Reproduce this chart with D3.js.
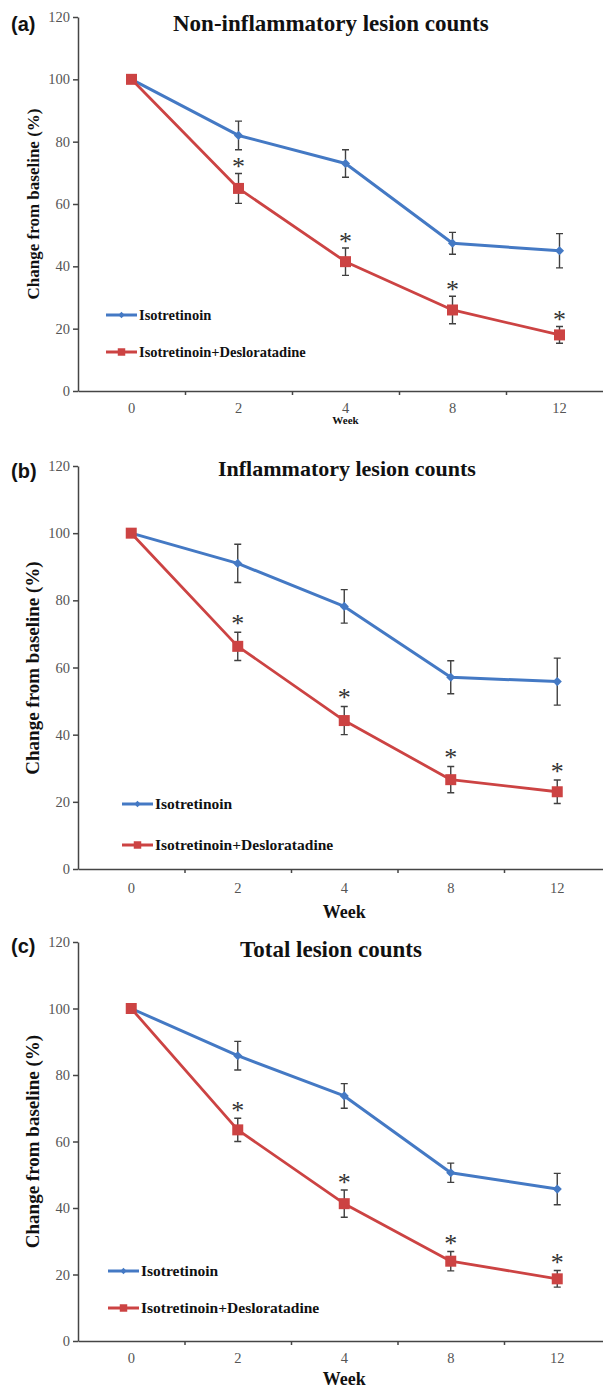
<!DOCTYPE html>
<meta charset="utf-8">
<style>
    body { margin: 0; background: #fff; }
    svg { display: block; }
    text { font-family: "Liberation Serif", "Times New Roman", serif; }
    .letter { font-family: "Liberation Sans", Arial, sans-serif; font-weight: bold; fill: #111; }
    .title, .ylabel, .week, .legend text { font-weight: bold; fill: #111; }
    .axis path, .axis line { stroke: #454545; stroke-width: 1.5px; }
    .axis text { fill: #555; font-family: "Liberation Serif", "Times New Roman", serif; }
    .err { stroke: #404040; stroke-width: 1.4px; fill: none; }
    .star { fill: #333; }
</style>
<body>
<svg width="603" height="1390"></svg>
</body>
<script src="https://d3js.org/d3.v7.min.js"></script>
<script>

    // data
    var weeks = ["0", "2", "4", "8", "12"];
    var yTicks = [0, 20, 40, 60, 80, 100, 120];
    var seriesNames = ["Isotretinoin", "Isotretinoin+Desloratadine"];
    var panelLetters = ["(a)", "(b)", "(c)"];
    var panelTitles = ["Non-inflammatory lesion counts", "Inflammatory lesion counts", "Total lesion counts"];

    var isoNonInfl = [100, 82, 73, 47.4, 45];
    var isoNonInflErr = [0, 4.6, 4.4, 3.5, 5.5];
    var comboNonInfl = [100, 65, 41.5, 26, 18];
    var comboNonInflErr = [0, 4.8, 4.4, 4.4, 2.7];

    var isoInfl = [100, 91, 78.2, 57.1, 55.8];
    var isoInflErr = [0, 5.7, 5, 4.9, 7];
    var comboInfl = [100, 66.3, 44.2, 26.6, 23];
    var comboInflErr = [0, 4.2, 4.2, 3.9, 3.5];

    var isoTotal = [100, 85.8, 73.7, 50.6, 45.7];
    var isoTotalErr = [0, 4.3, 3.7, 2.9, 4.7];
    var comboTotal = [100, 63.5, 41.3, 24, 18.7];
    var comboTotalErr = [0, 3.5, 4.1, 2.9, 2.5];

    // significance marks on the combination series
    var significant = [false, true, true, true, true];

    // layout of each panel (pixels)
    var layouts = [
        { x0: 78, step: 107, yTop: 17, yBottom: 391, titleX: 173, titleY: 31, titleSize: 23,
          letterY: 31, ylabelY: 204, ylabelSize: 17, tickY: 413, weekY: 424, weekSize: 11,
          legX: 106, legY: [315, 352], legSize: 14.5, starGap: 11 },
        { x0: 78, step: 106.5, yTop: 466, yBottom: 869, titleX: 218, titleY: 476, titleSize: 22,
          letterY: 478, ylabelY: 668, ylabelSize: 19, tickY: 893, weekY: 918, weekSize: 18,
          legX: 122, legY: [804, 845], legSize: 15.5, starGap: 13.5 },
        { x0: 78, step: 106.5, yTop: 942, yBottom: 1341, titleX: 240, titleY: 957, titleSize: 23,
          letterY: 953, ylabelY: 1141.5, ylabelSize: 19, tickY: 1363, weekY: 1385, weekSize: 18,
          legX: 108, legY: [1271, 1308], legSize: 15.5, starGap: 12.5 }
    ];

    var panelData = [
        [[isoNonInfl, isoNonInflErr], [comboNonInfl, comboNonInflErr]],
        [[isoInfl, isoInflErr], [comboInfl, comboInflErr]],
        [[isoTotal, isoTotalErr], [comboTotal, comboTotalErr]]
    ];

    var colors = ["#4479c4", "#cc4343"];
    var lineWidths = [3, 2.8];
    var svg = d3.select("svg");

    layouts.forEach(function (L, p) {
        var g = svg.append("g");

        var y = d3.scaleLinear().domain([0, 120]).range([L.yBottom, L.yTop]);
        var x = d3.scaleBand().domain(weeks).range([L.x0, L.x0 + weeks.length * L.step]);
        var xb = d3.scaleLinear().domain([0, weeks.length]).range([L.x0, L.x0 + weeks.length * L.step]);
        var cx = function (w) { return x(w) + x.bandwidth() / 2; };

        // y axis
        var ya = g.append("g").attr("class", "axis")
            .attr("transform", "translate(" + L.x0 + ",0)")
            .call(d3.axisLeft(y).tickValues(yTicks).tickSize(5).tickSizeOuter(0).tickPadding(3));
        ya.selectAll("text").style("font-size", "14.5px");

        // x axis: tick marks between categories, labels centred
        g.append("g").attr("class", "axis")
            .attr("transform", "translate(0," + L.yBottom + ")")
            .call(d3.axisBottom(xb).tickValues([1, 2, 3, 4, 5]).tickSize(4).tickSizeOuter(0).tickFormat(""));
        var xl = g.append("g").attr("class", "axis")
            .attr("transform", "translate(0," + L.yBottom + ")")
            .call(d3.axisBottom(x).tickSize(0));
        xl.select(".domain").remove();
        xl.selectAll("text").attr("y", L.tickY - L.yBottom).attr("dy", 0).style("font-size", "14.5px");

        // labels
        g.append("text").attr("class", "letter")
            .attr("x", 11).attr("y", L.letterY).style("font-size", "20px")
            .text(panelLetters[p]);
        g.append("text").attr("class", "title")
            .attr("x", L.titleX).attr("y", L.titleY).style("font-size", L.titleSize + "px")
            .text(panelTitles[p]);
        g.append("text").attr("class", "ylabel")
            .attr("transform", "translate(39," + L.ylabelY + ") rotate(-90)")
            .attr("text-anchor", "middle").style("font-size", L.ylabelSize + "px")
            .text("Change from baseline (%)");
        g.append("text").attr("class", "week")
            .attr("x", L.x0 + 2.5 * L.step).attr("y", L.weekY)
            .attr("text-anchor", "middle").style("font-size", L.weekSize + "px")
            .text("Week");

        var series = panelData[p];
        var line = d3.line()
            .x(function (d, i) { return cx(weeks[i]); })
            .y(function (d) { return y(d); });

        series.forEach(function (s, k) {
            g.append("path")
                .attr("d", line(s[0]))
                .attr("fill", "none")
                .attr("stroke", colors[k])
                .attr("stroke-width", lineWidths[k])
                .attr("stroke-linejoin", "round");
        });

        // error bars
        series.forEach(function (s) {
            s[0].forEach(function (v, i) {
                var e = s[1][i];
                if (!e) return;
                var xx = cx(weeks[i]);
                g.append("path").attr("class", "err")
                    .attr("d", "M" + xx + "," + y(v - e) + "V" + y(v + e) +
                        "M" + (xx - 3.5) + "," + y(v - e) + "h7" +
                        "M" + (xx - 3.5) + "," + y(v + e) + "h7");
            });
        });

        // markers
        var diamond = d3.symbol(d3.symbolSquare, 42);
        var square = d3.symbol(d3.symbolSquare, 121);
        series.forEach(function (s, k) {
            g.selectAll(null).data(s[0]).enter().append("path")
                .attr("d", k === 0 ? diamond : square)
                .attr("fill", colors[k])
                .attr("transform", function (d, i) {
                    return "translate(" + cx(weeks[i]) + "," + y(d) + ")" + (k === 0 ? " rotate(45)" : "");
                });
        });

        // asterisks above combination error bars
        var combo = series[1];
        combo[0].forEach(function (v, i) {
            if (!significant[i]) return;
            g.append("text").attr("class", "star")
                .attr("x", cx(weeks[i]))
                .attr("y", y(v + combo[1][i]) - L.starGap + 13)
                .attr("text-anchor", "middle")
                .style("font-size", "26px")
                .text("*");
        });

        // legend
        var leg = g.append("g").attr("class", "legend");
        seriesNames.forEach(function (name, k) {
            var ly = L.legY[k];
            leg.append("line")
                .attr("x1", L.legX).attr("x2", L.legX + 31).attr("y1", ly).attr("y2", ly)
                .attr("stroke", colors[k]).attr("stroke-width", 3);
            leg.append("path")
                .attr("d", d3.symbol(d3.symbolSquare, k === 0 ? 20 : 56)())
                .attr("fill", colors[k])
                .attr("transform", "translate(" + (L.legX + 15.5) + "," + ly + ")" + (k === 0 ? " rotate(45)" : ""));
            leg.append("text")
                .attr("x", L.legX + 33).attr("y", ly + 5)
                .style("font-size", L.legSize + "px")
                .text(name);
        });
    });
</script>
